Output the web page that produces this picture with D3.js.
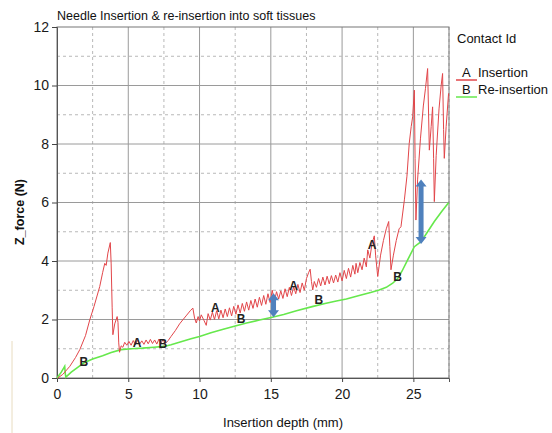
<!DOCTYPE html>
<html>
<head>
<meta charset="utf-8">
<script src="https://cdn.jsdelivr.net/npm/d3@7"></script>
<style>
  body { margin: 0; background: #fff; }
  svg { font-family: "Liberation Sans", Arial, sans-serif; }
</style>
</head>
<body>
<div id="chart"></div>
<script>
// Chart size
const width = 552;
const height = 433;

// Insertion (A) - [depth mm, force N]
const insertion = [
  [0.05,0],[0.4,0.12],[0.9,0.4],[1.3,0.7],[1.6,0.97],[2.0,1.45],[2.3,1.99],[2.6,2.45],
  [3.0,3.13],[3.2,3.6],[3.35,3.92],[3.45,3.85],[3.57,4.27],[3.74,4.63],[3.8,3.9],[3.87,2.4],
  [3.92,1.48],[4.05,1.85],[4.22,2.1],[4.28,1.9],[4.33,1.2],[4.39,0.88],[4.5,1.1],[4.62,1.05],
  [4.75,1.22],[4.9,1.12],[5.05,1.25],[5.2,1.12],[5.35,1.28],[5.5,1.14],[5.65,1.3],[5.8,1.16],
  [5.95,1.27],[6.1,1.15],[6.25,1.3],[6.4,1.17],[6.55,1.32],[6.7,1.18],[6.85,1.3],[7.0,1.16],
  [7.15,1.33],[7.3,1.2],[7.45,1.32],[7.6,1.18],[7.8,1.28],[8.0,1.42],[8.3,1.62],[8.6,1.85],
  [8.83,1.99],[9.1,2.15],[9.35,2.3],[9.53,2.39],[9.65,2.05],[9.77,1.88],[9.9,2.1],[10.0,1.95],
  [10.12,2.16],[10.3,1.98],[10.47,1.8],[10.6,2.2],[10.75,1.98],[10.9,2.25],[11.05,2.0],[11.2,2.3],
  [11.35,2.02],[11.5,2.32],[11.65,2.06],[11.8,2.36],[11.95,2.1],[12.1,2.4],[12.25,2.12],[12.4,2.45],
  [12.55,2.18],[12.7,2.5],[12.85,2.22],[13.0,2.55],[13.15,2.28],[13.3,2.6],[13.45,2.32],[13.6,2.65],
  [13.75,2.38],[13.9,2.7],[14.05,2.42],[14.2,2.76],[14.35,2.48],[14.5,2.82],[14.65,2.52],[14.8,2.88],
  [14.95,2.58],[15.1,3.0],[15.25,2.62],[15.4,2.95],[15.55,2.7],[15.7,2.98],[15.85,2.72],[16.0,3.05],
  [16.15,2.78],[16.3,3.1],[16.45,2.82],[16.6,3.12],[16.75,2.88],[16.9,3.2],[17.05,2.92],[17.2,3.25],
  [17.35,3.0],[17.5,3.4],[17.65,3.6],[17.76,3.72],[17.85,3.3],[17.94,3.01],[18.05,3.3],[18.2,3.1],
  [18.35,3.4],[18.5,3.15],[18.65,3.45],[18.8,3.18],[18.95,3.48],[19.1,3.22],[19.25,3.5],[19.4,3.25],
  [19.55,3.52],[19.7,3.28],[19.85,3.6],[20.0,3.32],[20.15,3.68],[20.3,3.4],[20.45,3.75],[20.6,3.45],
  [20.75,3.85],[20.9,3.55],[20.98,3.92],[21.1,3.6],[21.25,3.95],[21.4,3.7],[21.55,4.1],[21.7,3.8],
  [21.8,4.38],[21.95,4.1],[22.1,4.6],[22.26,4.86],[22.35,4.2],[22.5,3.47],[22.7,4.2],[22.9,4.7],
  [23.1,5.1],[23.27,5.35],[23.35,4.5],[23.43,3.7],[23.6,4.2],[23.8,4.7],[24.0,5.1],[24.13,5.17],
  [24.37,6.09],[24.55,6.9],[24.71,8.02],[24.85,8.6],[24.95,8.93],[25.07,9.84],[25.12,7.5],[25.18,5.4],
  [25.3,6.8],[25.5,8.2],[25.7,9.3],[25.85,9.9],[26.0,10.58],[26.12,7.79],[26.25,8.6],[26.35,9.27],
  [26.42,7.5],[26.47,6.03],[26.6,7.6],[26.8,9.2],[26.95,10.0],[27.05,10.41],[27.12,8.5],[27.17,7.51],
  [27.3,8.6],[27.47,9.73]
];

// Re-insertion (B)
const reinsertion = [
  [0,0],[0.3,0.2],[0.54,0.4],[0.58,0.15],[0.62,0.03],[1.0,0.2],[1.5,0.38],[1.9,0.52],
  [2.5,0.65],[3.2,0.76],[3.8,0.87],[4.5,0.97],[5.2,1.0],[6.0,1.02],[6.8,1.05],[7.5,1.08],
  [8.0,1.14],[8.7,1.24],[9.4,1.34],[10.0,1.42],[10.8,1.55],[11.6,1.66],[12.5,1.78],[13.3,1.88],
  [14.2,1.98],[15.1,2.08],[15.9,2.17],[16.8,2.3],[17.9,2.44],[18.8,2.55],[19.6,2.63],[20.3,2.7],
  [21.2,2.82],[22.0,2.92],[22.6,3.01],[23.1,3.1],[23.55,3.24],[23.9,3.4],[24.2,3.65],[24.6,4.04],
  [25.07,4.49],[25.54,4.66],[26.0,5.0],[26.47,5.35],[27.0,5.7],[27.47,5.99]
];

// Contact id labels on the curves
const contactLabels = [
  ["B",1.89,0.53],["A",5.61,1.19],["B",7.43,1.17],["A",11.1,2.39],["B",12.92,2.01],
  ["A",16.59,3.15],["B",18.36,2.67],["A",22.1,4.55],["B",23.9,3.47]
];

// Double arrows showing the gap [depth, from, to]
const gapArrows = [[15.19,2.9,2.08],[25.54,6.79,4.58]];

const xTicks = [0,5,10,15,20,25];
const yTicks = [0,2,4,6,8,10,12];

const svg = d3.select("#chart")
  .append("svg")
  .attr("width", width)
  .attr("height", height);

const x = d3.scaleLinear().domain([0, 27.5]).range([57, 449]);
const y = d3.scaleLinear().domain([0, 12]).range([378, 27]);

// left-edge artefact strip
svg.append("line")
  .attr("x1", 12).attr("x2", 12).attr("y1", 341).attr("y2", 433)
  .attr("stroke", "#e8dcc0").attr("stroke-width", 1);

// grid
const grid = svg.append("g");
d3.range(2.5, 27.6, 2.5).forEach(v => {
  const major = v % 5 === 0;
  grid.append("line")
    .attr("x1", x(v)).attr("x2", x(v)).attr("y1", y(0)).attr("y2", y(12))
    .attr("stroke", major ? "#9a9a9a" : "#b8b8b8")
    .attr("stroke-dasharray", major ? null : "3,3");
});
d3.range(1, 12, 1).forEach(v => {
  const major = v % 2 === 0;
  grid.append("line")
    .attr("x1", x(0)).attr("x2", x(27.5)).attr("y1", y(v)).attr("y2", y(v))
    .attr("stroke", major ? "#9a9a9a" : "#b8b8b8")
    .attr("stroke-dasharray", major ? null : "3,3");
});

// frame
svg.append("rect")
  .attr("x", x(0)).attr("y", y(12))
  .attr("width", x(27.5) - x(0)).attr("height", y(0) - y(12))
  .attr("fill", "none").attr("stroke", "#777");

// axes
const xAxis = svg.append("g")
  .attr("transform", `translate(0,${y(0)})`)
  .call(d3.axisBottom(x).tickValues(xTicks).tickSize(4).tickPadding(7));
const yAxis = svg.append("g")
  .attr("transform", `translate(${x(0)},0)`)
  .call(d3.axisLeft(y).tickValues(yTicks).tickSize(5).tickPadding(3));
[xAxis, yAxis].forEach(a => {
  a.select(".domain").attr("stroke", "#555");
  a.selectAll(".tick line").attr("stroke", "#444");
  a.selectAll("text").attr("font-size", 14).attr("fill", "#1a1a1a")
    .attr("font-family", "Liberation Sans, Arial, sans-serif");
});

// lines
const line = d3.line().x(d => x(d[0])).y(d => y(d[1]));
svg.append("path").datum(reinsertion)
  .attr("d", line).attr("fill", "none")
  .attr("stroke", "#66e84c").attr("stroke-width", 1.6);
svg.append("path").datum(insertion)
  .attr("d", line).attr("fill", "none")
  .attr("stroke", "#e2464a").attr("stroke-width", 1);

// contact labels
svg.selectAll(".clabel")
  .data(contactLabels)
  .enter()
  .append("text")
  .attr("class", "clabel")
  .attr("x", d => x(d[1]))
  .attr("y", d => y(d[2]) + 4)
  .attr("text-anchor", "middle")
  .attr("font-size", 12)
  .attr("font-weight", "bold")
  .attr("fill", "#222")
  .text(d => d[0]);

// gap arrows
gapArrows.forEach(([d, a, b]) => {
  const cx = x(d), top = y(a), bot = y(b);
  const sw = 2.5, hw = 5.5, hl = 7;
  svg.append("path")
    .attr("d", `M${cx},${top} L${cx + hw},${top + hl} L${cx + sw},${top + hl} L${cx + sw},${bot - hl}
      L${cx + hw},${bot - hl} L${cx},${bot} L${cx - hw},${bot - hl} L${cx - sw},${bot - hl}
      L${cx - sw},${top + hl} L${cx - hw},${top + hl} Z`)
    .attr("fill", "#4f81bd");
});

// title
svg.append("text")
  .attr("x", 57).attr("y", 20)
  .attr("font-size", 12.5).attr("fill", "#111")
  .text("Needle Insertion & re-insertion into soft tissues");

// axis titles
svg.append("text")
  .attr("x", 283).attr("y", 427)
  .attr("text-anchor", "middle")
  .attr("font-size", 13).attr("fill", "#111")
  .text("Insertion depth (mm)");
svg.append("text")
  .attr("transform", "translate(24,212) rotate(-90)")
  .attr("text-anchor", "middle")
  .attr("font-size", 12.5).attr("font-weight", "bold").attr("fill", "#111")
  .text("Z_force (N)");

// legend
const legend = svg.append("g");
legend.append("text")
  .attr("x", 457).attr("y", 43)
  .attr("font-size", 13).attr("fill", "#111")
  .text("Contact Id");
[["A", "Insertion", "#e2464a", 77], ["B", "Re-insertion", "#66e84c", 94]].forEach(([k, name, c, yy]) => {
  legend.append("line")
    .attr("x1", 456).attr("x2", 477).attr("y1", yy + 3).attr("y2", yy + 3)
    .attr("stroke", c).attr("stroke-width", 1.5);
  legend.append("text")
    .attr("x", 462).attr("y", yy)
    .attr("font-size", 13).attr("fill", "#111")
    .text(k);
  legend.append("text")
    .attr("x", 478).attr("y", yy)
    .attr("font-size", 13).attr("fill", "#111")
    .text(name);
});
</script>
</body>
</html>
